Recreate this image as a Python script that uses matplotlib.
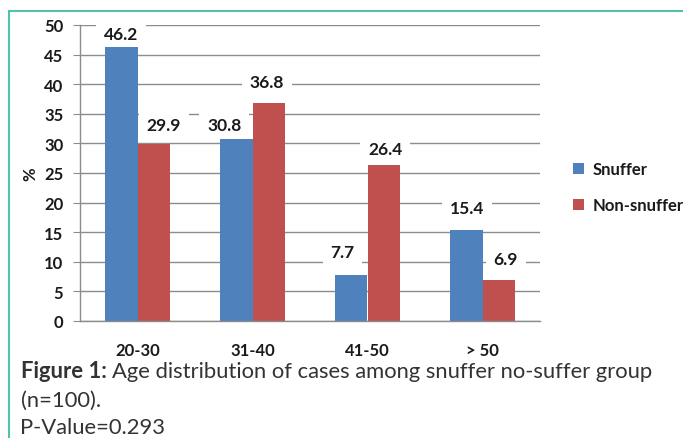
import matplotlib
matplotlib.use("Agg")
import matplotlib.pyplot as plt
from matplotlib.lines import Line2D
import numpy as np

categories = ["20-30", "31-40", "41-50", "> 50"]
snuffer = [46.2, 30.8, 7.7, 15.4]
non_snuffer = [29.9, 36.8, 26.4, 6.9]
yticks = [0, 5, 10, 15, 20, 25, 30, 35, 40, 45, 50]

# label placement nudges (pixels, dx, dy above bar top), as Excel laid them out
snuffer_label_nudge = [(0, 13), (-12, 14), (-9, 23), (1, 22)]
non_snuffer_label_nudge = [(10, 19), (-1.5, 21), (1.5, 16), (7, 21)]

BLUE = "#4F81BD"
RED = "#C0504D"
GRID = "#8C8C8C"
TXT = "#1a1a1a"
FONT = "Lato"

plt.rcParams['font.family'] = [FONT, 'DejaVu Sans']

fig = plt.figure(figsize=(6.83, 4.39), dpi=100)
ax = fig.add_axes([80/683, 1-322/439, 460/683, 296/439])

x = np.arange(len(categories))
w = 0.28
b1 = ax.bar(x - w/2, snuffer, w, color=BLUE, label="Snuffer", zorder=2)
b2 = ax.bar(x + w/2, non_snuffer, w, color=RED, label="Non-snuffer", zorder=2)

PX2PT = 72 / fig.dpi
for rects, vals, nudges in ((b1, snuffer, snuffer_label_nudge), (b2, non_snuffer, non_snuffer_label_nudge)):
    for r, v, (dx, dy) in zip(rects, vals, nudges):
        ax.annotate(f"{v}", (r.get_x() + r.get_width()/2, v), xytext=(dx*PX2PT, dy*PX2PT),
                    textcoords="offset points", ha="center", va="center",
                    fontsize=12.5, fontweight="bold", color=TXT, zorder=1.5,
                    bbox=dict(boxstyle="square,pad=0.45", fc="white", ec="none"))

ax.set_xlim(-0.5, len(categories) - 0.5)
ax.set_ylim(0, 50)
ax.set_yticks(yticks)
ax.set_xticks(x)
ax.set_xticklabels(categories)
ax.yaxis.grid(True, color=GRID, linewidth=1.0, zorder=0)
ax.set_axisbelow(True)
for s in ("top", "right"):
    ax.spines[s].set_visible(False)
for s in ("left", "bottom"):
    ax.spines[s].set_color(GRID)
    ax.spines[s].set_linewidth(1.0)
ax.tick_params(axis="y", length=5, color=GRID, pad=7, labelsize=12)
ax.tick_params(axis="x", length=0, pad=15, labelsize=12)
for t in ax.get_xticklabels() + ax.get_yticklabels():
    t.set_fontweight("bold")
    t.set_color(TXT)
ax.set_ylabel("%", fontsize=12, fontweight="bold", labelpad=4, color=TXT)

leg = ax.legend(loc="center left", bbox_to_anchor=(558/683, 1-188/439),
                bbox_transform=fig.transFigure, frameon=False,
                prop=dict(family=FONT, weight="bold", size=12),
                handlelength=0.65, handleheight=0.65, handletextpad=0.5,
                labelspacing=1.2)
for t in leg.get_texts():
    t.set_color(TXT)

# teal frame
fig.add_artist(Line2D([9/683, 1], [1-12/439, 1-12/439], color="#52C3AA", lw=1.5, transform=fig.transFigure))
fig.add_artist(Line2D([9/683, 9/683], [0, 1-12/439], color="#52C3AA", lw=1.5, transform=fig.transFigure))

# caption
CAP = "#333333"
t1 = fig.text(21/683, 1-372/439, "Figure 1:", fontsize=15.8, fontweight="bold", color=CAP, va="center")
fig.canvas.draw()
bb = t1.get_window_extent()
fig.text(bb.x1/683 + 5/683, 1-372/439, "Age distribution of cases among snuffer no-suffer group",
         fontsize=15.8, color=CAP, va="center")
fig.text(21/683, 1-401/439, "(n=100).", fontsize=15.8, color=CAP, va="center")
fig.text(20/683, 1-428/439, "P-Value=0.293", fontsize=15.8, color=CAP, va="center")

fig.savefig("out.png", dpi=100)
